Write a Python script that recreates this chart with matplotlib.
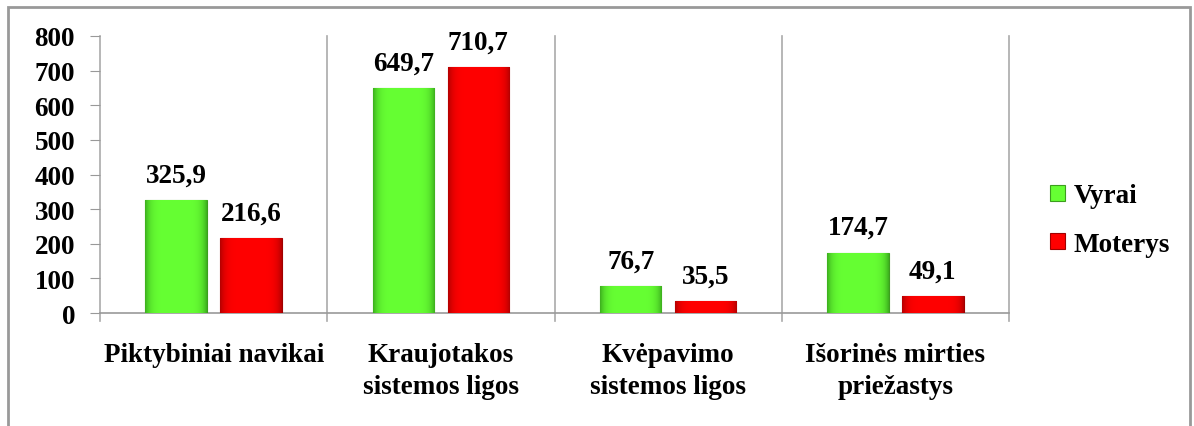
import numpy as np
import matplotlib.pyplot as plt
from matplotlib import font_manager as fm
from matplotlib.patches import Rectangle
from matplotlib.colors import to_rgb

categories = ['Piktybiniai navikai', 'Kraujotakos\nsistemos ligos',
              'Kvėpavimo\nsistemos ligos', 'Išorinės mirties\npriežastys']
vyrai = [325.9, 649.7, 76.7, 174.7]
moterys = [216.6, 710.7, 35.5, 49.1]
series_names = ['Vyrai', 'Moterys']
yticks = [0, 100, 200, 300, 400, 500, 600, 700, 800]

FS = 19.5
FP = fm.FontProperties(family=['Liberation Serif', 'DejaVu Serif'],
                       weight='bold', size=FS)

fig = plt.figure(figsize=(11.94, 4.27), dpi=100)
ax = fig.add_axes([100/1194, 1-314/427, 909/1194, 277/427])

# outer frame
fig.patches.append(Rectangle((8/1194, -0.1), 1182/1194, 1.1 - 8/427,
                             transform=fig.transFigure, fill=False,
                             edgecolor='#999999', linewidth=2))

x = np.arange(len(categories))
w = 0.27
off = 0.165
b1 = ax.bar(x - off, vyrai, w, color='#66ff33', edgecolor='#3c9e1e',
            linewidth=0.8, label=series_names[0], zorder=3)
b2 = ax.bar(x + off, moterys, w, color='#ff0000', edgecolor='#a00000',
            linewidth=0.8, label=series_names[1], zorder=3)

def shade(bars, light, dark):
    l = np.array(to_rgb(light))
    d = np.array(to_rgb(dark))
    t = np.linspace(-1, 1, 60)
    k = np.clip(np.abs(t) ** 6, 0, 1)[:, None]
    row = l * (1 - k) + d * k
    img = row[None, :, :]
    for b in bars:
        im = ax.imshow(img, extent=(b.get_x(), b.get_x() + b.get_width(),
                                    0, b.get_height()),
                       aspect='auto', zorder=3.5, interpolation='bilinear')
        im.set_clip_path(b)

shade(b1, '#66ff33', '#3fb31f')
shade(b2, '#ff0000', '#b80000')

def fmt(v):
    return ('%.1f' % v).replace('.', ',')

for bars, vals in ((b1, vyrai), (b2, moterys)):
    for b, v in zip(bars, vals):
        ax.annotate(fmt(v), (b.get_x() + b.get_width()/2, v),
                    xytext=(0, 18), textcoords='offset points',
                    ha='center', va='center', fontproperties=FP)

ax.set_xlim(-0.5, len(categories) - 0.5)
ax.set_ylim(0, 800)
ax.set_yticks(yticks)
ax.set_yticklabels([str(t) for t in yticks], fontproperties=FP)
ax.tick_params(axis='y', length=7, color='#999999', pad=11)

# category separators
for s in np.arange(len(categories) + 1) - 0.5:
    ax.plot([s, s], [-23, 800], color='#aaaaaa', linewidth=1.2,
            clip_on=False, zorder=1)
ax.set_xticks([])
for i, c in enumerate(categories):
    ax.text(i, -84, c, ha='center', va='top', fontproperties=FP,
            linespacing=1.35)

for s in ['top', 'right', 'left']:
    ax.spines[s].set_visible(False)
ax.spines['bottom'].set_color('#999999')
ax.spines['bottom'].set_linewidth(1.2)

leg = fig.legend(handles=[b1, b2], loc='center left',
                 bbox_to_anchor=(1026/1194, 1-221/427), frameon=False,
                 prop=FP, handlelength=0.55, handleheight=0.55,
                 handletextpad=0.3, labelspacing=0.85)

fig.savefig('out.png', dpi=100)
